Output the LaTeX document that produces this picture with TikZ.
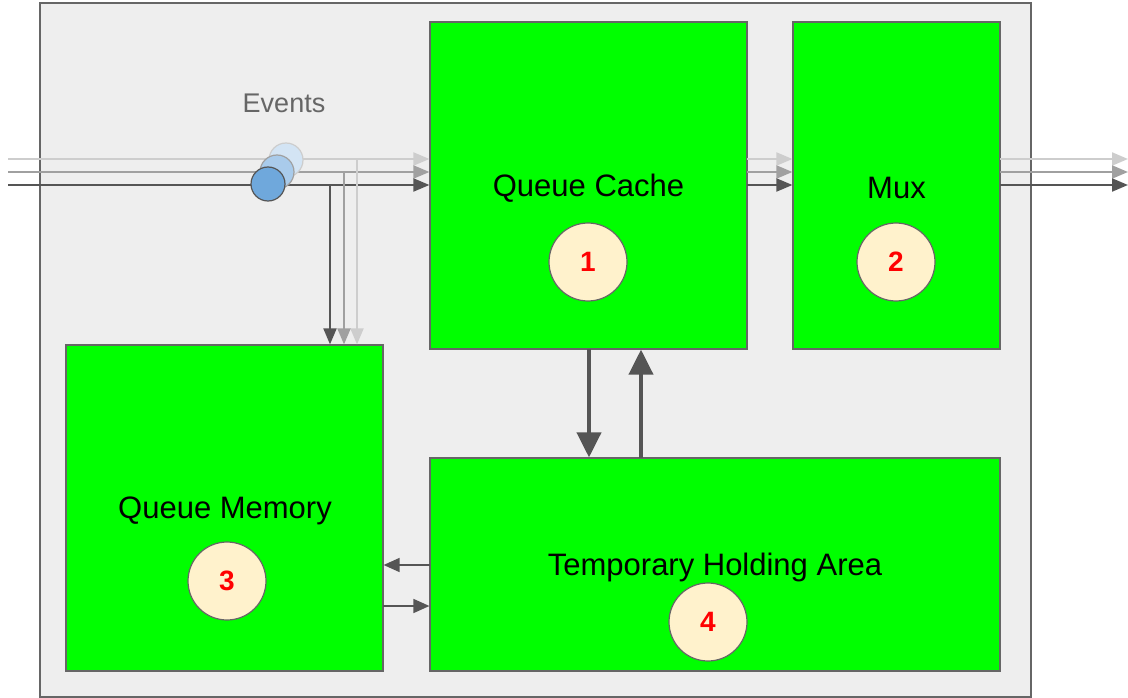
\documentclass[tikz,border=0pt]{standalone}
\usepackage{fontspec}
\setmainfont{Liberation Sans}
\usetikzlibrary{arrows.meta}
\definecolor{bggray}{HTML}{EEEEEE}
\definecolor{edgegray}{HTML}{666666}
\definecolor{boxgreen}{HTML}{00FF00}
\definecolor{badge}{HTML}{FFF2CC}
\definecolor{evdark}{HTML}{6FA8DC}
\definecolor{evmid}{HTML}{A9CBEB}
\definecolor{evlight}{HTML}{D3E4F4}
\definecolor{lndark}{HTML}{555555}
\definecolor{lnmid}{HTML}{A0A0A0}
\definecolor{lnlight}{HTML}{CDCDCD}
\tikzset{
  blk/.style={draw=edgegray, line width=1.2pt, fill=boxgreen, inner sep=0pt},
  lbl/.style={font=\fontsize{31}{35}\selectfont, text=black, inner sep=0pt},
  num/.style={circle, draw=edgegray, line width=1.2pt, fill=badge, minimum size=78pt, inner sep=0pt,
              font=\fontsize{28}{32}\selectfont\bfseries, text=red},
  evt/.style={circle, line width=1.2pt, minimum size=34pt, inner sep=0pt},
  flow/.style={line width=2pt, -{Triangle[length=16pt,width=13pt]}},
  big/.style={line width=4pt, draw=lndark, -{Triangle[length=25pt,width=24pt]}},
  small/.style={line width=1.6pt, draw=lndark, -{Triangle[length=16pt,width=14pt]}},
}
\begin{document}
\begin{tikzpicture}[x=1pt,y=-1pt]
\useasboundingbox (0,0) rectangle (1128,698);
% outer frame
\node[draw=edgegray, line width=1.2pt, fill=bggray, minimum width=991pt, minimum height=694pt, inner sep=0pt] (frame) at (535.5,350) {};

% blocks
\node[blk, minimum width=317pt, minimum height=327pt] (qc) at (588.5,185.5) {};
\node[blk, minimum width=207pt, minimum height=327pt] (mux) at (896.5,185.5) {};
\node[blk, minimum width=317pt, minimum height=326pt] (qm) at (224.5,508) {};
\node[blk, minimum width=570pt, minimum height=213pt] (tha) at (715,564.5) {};

% labels
\node[lbl] (qcl) at (588.5,188) {Queue Cache};
\node[lbl] (muxl) at (896.5,188) {Mux};
\node[lbl] (qml) at (225,511) {Queue Memory};
\node[lbl] (thal) at (715,567) {Temporary Holding Area};
\node[num] (n1) at (588,262) {1};
\node[num] (n2) at (896,262) {2};
\node[num] (n3) at (227,581) {3};
\node[num] (n4) at (708,622) {4};

\node[font=\fontsize{27}{31}\selectfont, text=edgegray, inner sep=0pt] (evl) at (284,103) {Events};

% input lines
\coordinate (inL) at (8,159);
\coordinate (inM) at (8,172);
\coordinate (inD) at (8,185);
\draw[flow, draw=lnlight, lnlight] (inL) -- (inL -| qc.west);
\draw[flow, draw=lnmid, lnmid] (inM) -- (inM -| qc.west);
\draw[flow, draw=lndark, lndark] (inD) -- (inD -| qc.west);

% drops to queue memory
\coordinate (dL) at (357,159);
\coordinate (dM) at (344,172);
\coordinate (dD) at (330,185);
\draw[flow, draw=lnlight, lnlight] (dL) -- (dL |- qm.north);
\draw[flow, draw=lnmid, lnmid] (dM) -- (dM |- qm.north);
\draw[flow, draw=lndark, lndark] (dD) -- (dD |- qm.north);

% events
\node[evt, draw=lnlight, fill=evlight] (e3) at (286,160) {};
\node[evt, draw=lnmid, fill=evmid] (e2) at (277,172) {};
\node[evt, draw=lndark, fill=evdark] (e1) at (268,184) {};

% cache -> mux
\coordinate (cL) at (747,159);
\coordinate (cM) at (747,172);
\coordinate (cD) at (747,185);
\draw[flow, draw=lnlight, lnlight] (cL) -- (cL -| mux.west);
\draw[flow, draw=lnmid, lnmid] (cM) -- (cM -| mux.west);
\draw[flow, draw=lndark, lndark] (cD) -- (cD -| mux.west);

% mux -> out
\coordinate (mL) at (1000,159);
\coordinate (mM) at (1000,172);
\coordinate (mD) at (1000,185);
\coordinate (oL) at (1128,159);
\coordinate (oM) at (1128,172);
\coordinate (oD) at (1128,185);
\draw[flow, draw=lnlight, lnlight] (mL) -- (oL);
\draw[flow, draw=lnmid, lnmid] (mM) -- (oM);
\draw[flow, draw=lndark, lndark] (mD) -- (oD);

% cache <-> holding
\draw[big] (589,349) coordinate (qcd) -- (qcd |- tha.north);
\draw[big] (641,458) coordinate (thu) -- (thu |- qc.south);

% memory <-> holding
\draw[small] (430,565) coordinate (thl) -- (thl -| qm.east);
\draw[small] (383,606) coordinate (qmr) -- (qmr -| tha.west);
\end{tikzpicture}
\end{document}
